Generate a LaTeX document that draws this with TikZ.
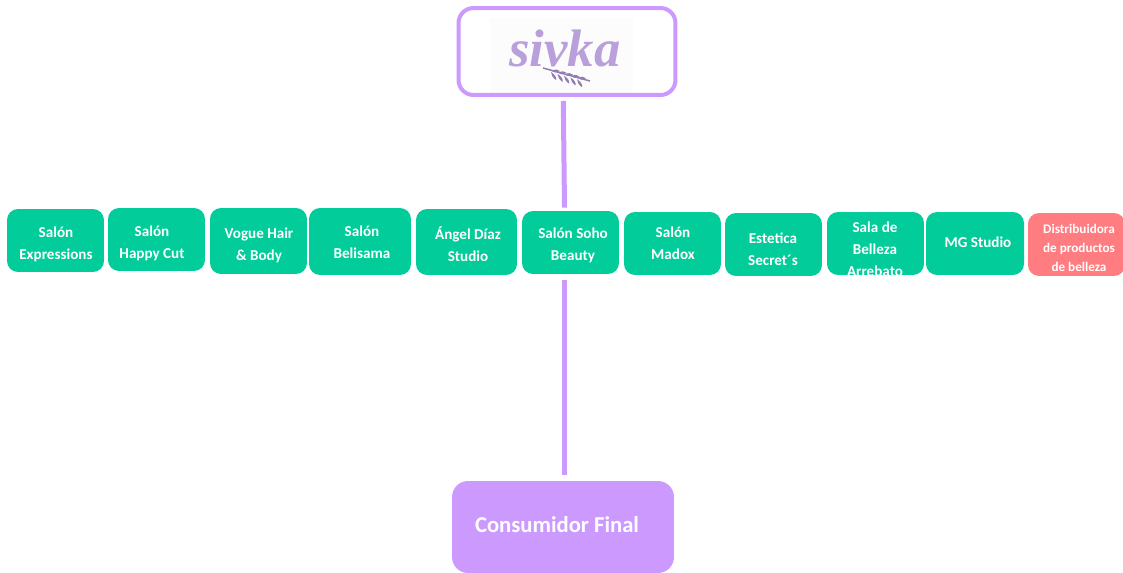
\documentclass[tikz,border=0pt]{standalone}
\usepackage{fontspec}
\setmainfont{Carlito}
\newfontfamily\logofont{Liberation Serif}
\definecolor{salongreen}{HTML}{02CD9A}
\definecolor{distpink}{HTML}{FF7C80}
\definecolor{sivkapurple}{HTML}{CC99FF}
\definecolor{logoink}{HTML}{B9A0DA}
\definecolor{leafink}{HTML}{8F7DB3}
\tikzset{
  salon/.style={rectangle,fill=salongreen,rounded corners=0.22cm,inner sep=0pt,minimum width=1.94cm,minimum height=1.26cm},
  salontxt/.style={text=white,font=\fontsize{8.6}{12.6}\selectfont\bfseries,align=center,inner sep=0pt},
  link/.style={draw=sivkapurple,line width=0.1cm}
}
\begin{document}
\begin{tikzpicture}[x=0.02cm,y=-0.02cm]
\useasboundingbox (0,0) rectangle (1123,572);

\node[rectangle,draw=sivkapurple,line width=0.08cm,rounded corners=0.3cm,inner sep=0pt,minimum width=4.34cm,minimum height=1.74cm] (sivka) at (567,51.5) {};
\node[rectangle,fill=black!1,inner sep=0pt,minimum width=2.86cm,minimum height=1.5cm] (logo) at (561.5,55) {};
\node[text=logoink,font=\logofont\bfseries\itshape\fontsize{30}{30}\selectfont,inner sep=0pt] (logotxt) at (565,48) {sivka};

% sprig under the name
\coordinate (L) at (543,68);
\coordinate (R) at (590,81);
\draw[leafink,line width=0.03cm] (L) -- (R);
\foreach \i in {0,1,2,3,4}{
  \fill[leafink] (552+6.5*\i,71+1.8*\i) .. controls (555+6.5*\i,69+1.8*\i) and (558+6.5*\i,69+1.8*\i) .. (560+6.5*\i,71+1.8*\i) .. controls (558+6.5*\i,73+1.8*\i) and (555+6.5*\i,73+1.8*\i) .. cycle;
  \fill[leafink] (551+6.5*\i,72+1.8*\i) .. controls (551+6.5*\i,75+1.8*\i) and (553+6.5*\i,78+1.8*\i) .. (556+6.5*\i,80+1.8*\i) .. controls (557+6.5*\i,77+1.8*\i) and (554+6.5*\i,74+1.8*\i) .. cycle;
}

\node[salon] (expressions) at (55.5,240.5) {};
\node[salon] (happycut) at (156.5,239.5) {};
\node[salon,minimum height=1.32cm] (vogue) at (258.5,241) {};
\node[salon,minimum width=2.04cm,minimum height=1.34cm] (belisama) at (360,241.5) {};
\node[salon,minimum width=2.02cm,minimum height=1.32cm] (angel) at (466.5,242) {};
\node[salon] (soho) at (570.5,242.5) {};
\node[salon] (madox) at (672.5,243.5) {};
\node[salon] (secrets) at (773.5,244.5) {};
\node[salon] (arrebato) at (875.5,243.5) {};
\node[salon,minimum width=1.96cm] (mg) at (975,243.5) {};
\node[salon,fill=distpink] (dist) at (1076.5,244.5) {};

\node[salontxt] (expressions1) at (56,244) {Salón\\Expressions};
\node[salontxt] (happycut1) at (152,243) {Salón\\Happy Cut};
\node[salontxt] (vogue1) at (259,245) {Vogue Hair\\\& Body};
\node[salontxt] (belisama1) at (362,242) {Salón\\Belisama};
\node[salontxt] (angel1) at (468,244) {Ángel Díaz\\Studio};
\node[salontxt] (soho1) at (573,245.5) {Salón Soho\\Beauty};
\node[salontxt] (madox1) at (673,243.5) {Salón\\Madox};
\node[salontxt] (secrets1) at (773,249.5) {Estetica\\Secret´s};
\begin{scope}
\clip (827,205) rectangle (924,275.5);
\node[salontxt] (arrebato1) at (875,249) {Sala de\\Belleza\\Arrebato};
\end{scope}
\node[salontxt] (mg1) at (978,242) {MG Studio};
\node[salontxt,font=\fontsize{7.5}{10.6}\selectfont\bfseries] (dist1) at (1079,248) {Distribuidora\\de productos\\de belleza};

\node[rectangle,fill=sivkapurple,rounded corners=0.32cm,inner sep=0pt,minimum width=4.44cm,minimum height=1.84cm] (consumidor) at (563,527) {};
\node[text=white,font=\fontsize{12.9}{15}\selectfont\bfseries,inner sep=0pt] (consumidor1) at (557,525) {Consumidor Final};

\coordinate (A) at ([shift={(-3.7,4)}]sivka.south);
\coordinate (B) at ([shift={(-6,-3)}]soho.north);
\coordinate (C) at ([shift={(-6,6)}]soho.south);
\coordinate (D) at ([shift={(1.5,-6)}]consumidor.north);
\draw[link] (A) -- (B);
\draw[link] (C) -- (D);

\end{tikzpicture}
\end{document}
